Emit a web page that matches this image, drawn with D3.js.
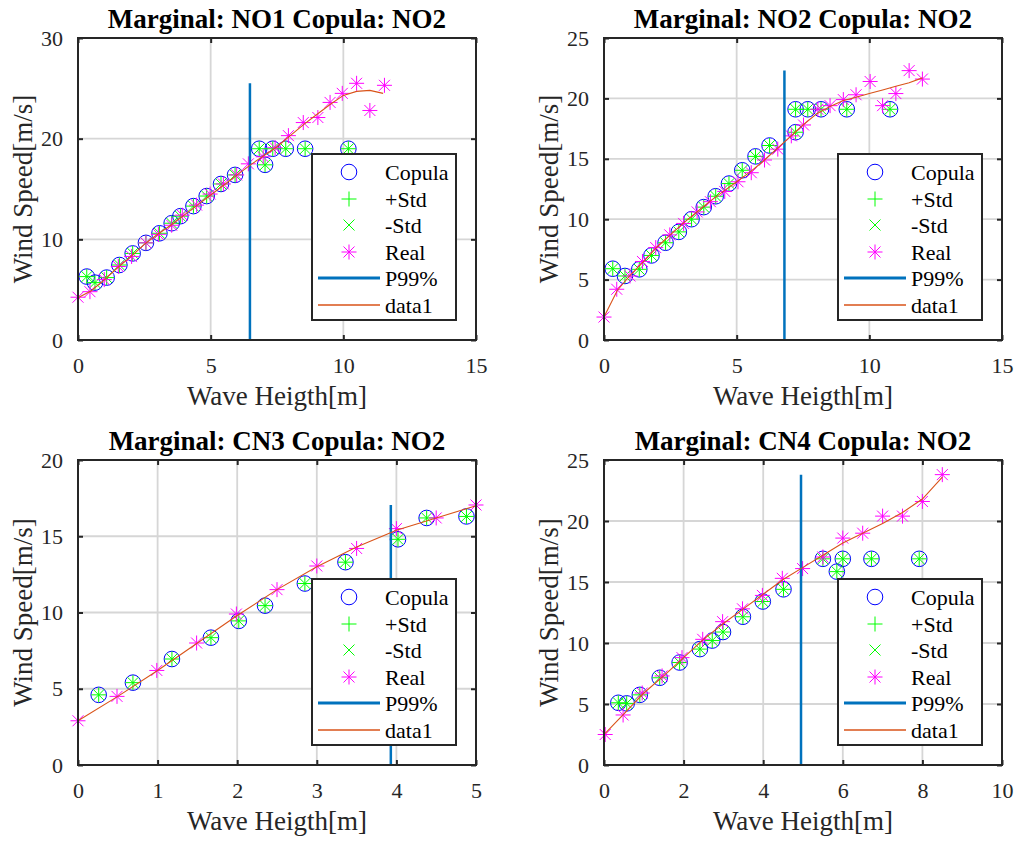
<!DOCTYPE html>
<html>
<head>
<meta charset="utf-8">
<script src="https://cdn.jsdelivr.net/npm/d3@7"></script>
<style>
  body { margin: 0; background: #fff; }
  text { font-family: "Liberation Serif", "Times New Roman", serif; fill: #262626; }
</style>
</head>
<body>
<div id="chart"></div>
<script>
// values (wave height [m] vs wind speed [m/s])
// the +Std / -Std markers sit exactly on the copula points in every panel

// panel 1: Marginal NO1
var p1CopX = [0.33, 0.64, 1.08, 1.56, 2.06, 2.56, 3.07, 3.53, 3.86, 4.35, 4.85, 5.39, 5.92, 6.83, 7.05, 7.34, 7.83, 8.56, 10.19]
var p1CopY = [6.3, 5.7, 6.2, 7.45, 8.6, 9.65, 10.6, 11.6, 12.3, 13.3, 14.3, 15.5, 16.4, 19.0, 17.4, 19.0, 19.0, 19.0, 19.0]
var p1RealX = [0, 0.45, 0.99, 1.52, 2.02, 2.56, 3.03, 3.53, 3.93, 4.47, 4.98, 5.48, 5.98, 6.42, 6.98, 7.43, 7.93, 8.49, 9.04, 9.5, 9.96, 10.5, 11.0, 11.55]
var p1RealY = [4.25, 4.8, 6.0, 7.3, 8.3, 9.65, 10.5, 11.4, 12.4, 13.4, 14.5, 15.5, 16.4, 17.5, 18.2, 19.1, 20.3, 21.6, 22.1, 23.6, 24.5, 25.5, 22.8, 25.3]
var p1FitX = [0, 0.5, 1, 1.5, 2, 2.5, 3, 3.5, 4, 4.5, 5, 5.5, 6, 6.5, 7, 7.5, 8, 8.5, 9, 9.5, 10, 10.5, 11, 11.5]
var p1FitY = [4.2, 4.9, 6.0, 7.2, 8.3, 9.5, 10.5, 11.4, 12.4, 13.4, 14.4, 15.4, 16.4, 17.4, 18.3, 19.2, 20.3, 21.4, 22.4, 23.4, 24.3, 24.7, 24.8, 24.5]
var p1P99 = 6.48

// panel 2: Marginal NO2
var p2CopX = [0.33, 0.79, 1.33, 1.79, 2.32, 2.82, 3.3, 3.76, 4.21, 4.71, 5.21, 5.71, 6.24, 7.22, 7.22, 7.68, 8.18, 9.15, 10.78]
var p2CopY = [5.9, 5.3, 5.85, 7.0, 8.05, 8.95, 10.0, 11.0, 11.9, 12.95, 14.05, 15.2, 16.1, 17.2, 19.1, 19.1, 19.1, 19.1, 19.1]
var p2RealX = [0, 0.48, 0.98, 1.45, 1.95, 2.48, 3.0, 3.51, 4.01, 4.55, 5.05, 5.55, 6.05, 6.55, 7.06, 7.52, 8.06, 8.52, 9.02, 9.5, 10.03, 10.5, 11.0, 11.5, 12.0]
var p2RealY = [1.9, 4.2, 5.3, 6.5, 7.65, 8.7, 9.65, 10.6, 11.45, 12.3, 13.1, 13.85, 14.9, 15.8, 16.9, 17.8, 19.1, 19.4, 19.9, 20.3, 21.4, 19.4, 20.4, 22.3, 21.6]
var p2FitX = [0, 0.5, 1, 1.5, 2, 2.5, 3, 3.5, 4, 4.5, 5, 5.5, 6, 6.5, 7, 7.5, 8, 8.5, 9, 9.5, 10, 10.5, 11, 11.5, 12]
var p2FitY = [1.9, 4.1, 5.4, 6.5, 7.7, 8.7, 9.7, 10.6, 11.5, 12.3, 13.1, 13.9, 14.8, 15.8, 16.8, 17.8, 18.7, 19.3, 19.8, 20.1, 20.4, 20.7, 21.0, 21.3, 21.7]
var p2P99 = 6.8

// panel 3: Marginal CN3
var p3CopX = [0.26, 0.69, 1.18, 1.67, 2.02, 2.35, 2.85, 3.36, 4.02, 4.38, 4.88]
var p3CopY = [4.6, 5.4, 6.95, 8.35, 9.45, 10.45, 11.9, 13.3, 14.8, 16.2, 16.3]
var p3RealX = [0, 0.49, 0.99, 1.49, 1.99, 2.5, 3.0, 3.5, 4.0, 4.5, 5.0]
var p3RealY = [2.9, 4.5, 6.2, 8.0, 9.9, 11.5, 13.05, 14.2, 15.5, 16.2, 17.05]
var p3FitX = [0, 0.5, 1, 1.5, 2, 2.5, 3, 3.5, 4, 4.5, 5]
var p3FitY = [2.9, 4.5, 6.2, 8.0, 9.8, 11.5, 13.0, 14.3, 15.4, 16.2, 17.0]
var p3P99 = 3.93

// panel 4: Marginal CN4
var p4CopX = [0.36, 0.57, 0.9, 1.4, 1.9, 2.41, 2.72, 2.99, 3.49, 3.99, 4.51, 5.5, 5.85, 6.0, 6.72, 7.92]
var p4CopY = [5.1, 5.05, 5.75, 7.15, 8.4, 9.5, 10.2, 10.9, 12.15, 13.4, 14.4, 16.9, 15.85, 16.9, 16.9, 16.9]
var p4RealX = [0.03, 0.48, 0.96, 1.46, 1.96, 2.48, 2.98, 3.48, 3.98, 4.48, 4.99, 5.5, 6.0, 6.5, 7.0, 7.5, 8.0, 8.5]
var p4RealY = [2.5, 4.1, 5.9, 7.3, 8.8, 10.3, 11.75, 12.8, 13.9, 15.3, 16.1, 17.05, 18.6, 19.0, 20.4, 20.4, 21.6, 23.8]
var p4FitX = [0.03, 0.5, 1, 1.5, 2, 2.5, 3, 3.5, 4, 4.5, 5, 5.5, 6, 6.5, 7, 7.5, 8, 8.5]
var p4FitY = [2.6, 4.2, 5.9, 7.3, 8.8, 10.3, 11.6, 12.8, 14.0, 15.2, 16.2, 17.2, 18.2, 19.0, 19.8, 20.7, 21.8, 23.6]
var p4P99 = 4.95

var titles = ["Marginal: NO1 Copula: NO2", "Marginal: NO2 Copula: NO2", "Marginal: CN3 Copula: NO2", "Marginal: CN4 Copula: NO2"]
var xMax = [15, 15, 5, 10]
var yMax = [30, 25, 20, 25]
var xTicks = [[0, 5, 10, 15], [0, 5, 10, 15], [0, 1, 2, 3, 4, 5], [0, 2, 4, 6, 8, 10]]
var yTicks = [[0, 10, 20, 30], [0, 5, 10, 15, 20, 25], [0, 5, 10, 15, 20], [0, 5, 10, 15, 20, 25]]
var legendLabels = ["Copula", "+Std", "-Std", "Real", "P99%", "data1"]

var series = [
  {cx: p1CopX, cy: p1CopY, rx: p1RealX, ry: p1RealY, fx: p1FitX, fy: p1FitY, p99: p1P99},
  {cx: p2CopX, cy: p2CopY, rx: p2RealX, ry: p2RealY, fx: p2FitX, fy: p2FitY, p99: p2P99},
  {cx: p3CopX, cy: p3CopY, rx: p3RealX, ry: p3RealY, fx: p3FitX, fy: p3FitY, p99: p3P99},
  {cx: p4CopX, cy: p4CopY, rx: p4RealX, ry: p4RealY, fx: p4FitX, fy: p4FitY, p99: p4P99}
]

// axes boxes in pixels
var boxes = [
  {l: 78, r: 476, t: 38, b: 340},
  {l: 604, r: 1002, t: 38, b: 340},
  {l: 78, r: 476, t: 460, b: 765},
  {l: 604, r: 1002, t: 460, b: 765}
]

var axisColor = "#262626"
var gridColor = "#d6d6d6"
var blue = "#0000ff", green = "#00ff00", magenta = "#ff00ff"
var p99Color = "#0072bd", fitColor = "#d95319"

var plusPath = "M-7.5,0H7.5M0,-7.5V7.5"
var crossPath = "M-5.5,-5.5L5.5,5.5M-5.5,5.5L5.5,-5.5"
var starPath = plusPath + crossPath

var svg = d3.select("#chart").append("svg").attr("width", 1020).attr("height", 841)

series.forEach(function(s, i) {
  var bx = boxes[i]
  var x = d3.scaleLinear().domain([0, xMax[i]]).range([bx.l, bx.r])
  var y = d3.scaleLinear().domain([0, yMax[i]]).range([bx.b, bx.t])
  var g = svg.append("g")

  // grid
  g.append("g").selectAll("line").data(xTicks[i]).enter().append("line")
    .attr("x1", function(d) { return x(d) }).attr("x2", function(d) { return x(d) })
    .attr("y1", bx.t).attr("y2", bx.b)
    .attr("stroke", gridColor).attr("stroke-width", 1.8)
  g.append("g").selectAll("line").data(yTicks[i]).enter().append("line")
    .attr("y1", function(d) { return y(d) }).attr("y2", function(d) { return y(d) })
    .attr("x1", bx.l).attr("x2", bx.r)
    .attr("stroke", gridColor).attr("stroke-width", 1.8)

  // axes with inward ticks, MATLAB box style
  var tk = 5
  var fmt = d3.format("d")
  g.append("g").attr("transform", "translate(0," + bx.b + ")")
    .call(d3.axisBottom(x).tickValues(xTicks[i]).tickFormat(fmt).tickSizeInner(-tk).tickSizeOuter(0).tickPadding(17))
  g.append("g").attr("transform", "translate(0," + bx.t + ")")
    .call(d3.axisTop(x).tickValues(xTicks[i]).tickSizeInner(-tk).tickSizeOuter(0).tickFormat(""))
  g.append("g").attr("transform", "translate(" + bx.l + ",0)")
    .call(d3.axisLeft(y).tickValues(yTicks[i]).tickFormat(fmt).tickSizeInner(-tk).tickSizeOuter(0).tickPadding(15))
  g.append("g").attr("transform", "translate(" + bx.r + ",0)")
    .call(d3.axisRight(y).tickValues(yTicks[i]).tickSizeInner(-tk).tickSizeOuter(0).tickFormat(""))
  g.selectAll(".domain").remove()
  g.selectAll(".tick line").attr("stroke", axisColor).attr("stroke-width", 2)
  g.selectAll(".tick text").style("font-size", "22px").style("font-family", "Liberation Serif").attr("fill", axisColor)

  // markers
  var pts = s.cx.map(function(v, k) { return [v, s.cy[k]] })
  var real = s.rx.map(function(v, k) { return [v, s.ry[k]] })
  g.append("g").selectAll("circle").data(pts).enter().append("circle")
    .attr("cx", function(d) { return x(d[0]) }).attr("cy", function(d) { return y(d[1]) })
    .attr("r", 7.8).attr("fill", "none").attr("stroke", blue).attr("stroke-width", 1)
  g.append("g").selectAll("path").data(pts).enter().append("path")
    .attr("transform", function(d) { return "translate(" + x(d[0]) + "," + y(d[1]) + ")" })
    .attr("d", plusPath).attr("stroke", green).attr("stroke-width", 1)
  g.append("g").selectAll("path").data(pts).enter().append("path")
    .attr("transform", function(d) { return "translate(" + x(d[0]) + "," + y(d[1]) + ")" })
    .attr("d", crossPath).attr("stroke", green).attr("stroke-width", 1)
  g.append("g").selectAll("path").data(real).enter().append("path")
    .attr("transform", function(d) { return "translate(" + x(d[0]) + "," + y(d[1]) + ")" })
    .attr("d", starPath).attr("stroke", magenta).attr("stroke-width", 1)

  // P99% vertical line up to the highest real value
  var top = d3.max(s.ry)
  g.append("line")
    .attr("x1", x(s.p99)).attr("x2", x(s.p99)).attr("y1", y(0)).attr("y2", y(top))
    .attr("stroke", p99Color).attr("stroke-width", 2.5)

  // data1 fit line
  var fit = s.fx.map(function(v, k) { return [v, s.fy[k]] })
  g.append("path").datum(fit)
    .attr("d", d3.line().x(function(d) { return x(d[0]) }).y(function(d) { return y(d[1]) }))
    .attr("fill", "none").attr("stroke", fitColor).attr("stroke-width", 1.1)

  // frame
  g.append("rect").attr("x", bx.l).attr("y", bx.t).attr("width", bx.r - bx.l).attr("height", bx.b - bx.t)
    .attr("fill", "none").attr("stroke", axisColor).attr("stroke-width", 2)

  // title and labels
  g.append("text").text(titles[i])
    .attr("x", (bx.l + bx.r) / 2).attr("y", bx.t - 10).attr("text-anchor", "middle")
    .style("font-size", "27px").style("font-weight", "bold").style("fill", "#000")
  g.append("text").text("Wave Heigth[m]")
    .attr("x", (bx.l + bx.r) / 2).attr("y", bx.b + 65).attr("text-anchor", "middle")
    .style("font-size", "27px")
  g.append("text").text("Wind Speed[m/s]")
    .attr("transform", "translate(" + (bx.l - 46) + "," + ((bx.t + bx.b) / 2) + ") rotate(-90)")
    .attr("text-anchor", "middle").style("font-size", "27px")

  // legend
  var lw = 144, lh = 166
  var lx = bx.r - 20 - lw, ly = bx.b - 20 - lh
  var lg = g.append("g").attr("transform", "translate(" + lx + "," + ly + ")")
  lg.append("rect").attr("width", lw).attr("height", lh).attr("fill", "#fff")
    .attr("stroke", axisColor).attr("stroke-width", 2)
  legendLabels.forEach(function(lab, k) {
    var ry = Math.round(18 + k * 26.5)
    if (k == 0) {
      lg.append("circle").attr("cx", 37).attr("cy", ry).attr("r", 7.8).attr("fill", "none").attr("stroke", blue)
    } else if (k == 1) {
      lg.append("path").attr("transform", "translate(37," + ry + ")").attr("d", plusPath).attr("stroke", green)
    } else if (k == 2) {
      lg.append("path").attr("transform", "translate(37," + ry + ")").attr("d", crossPath).attr("stroke", green)
    } else if (k == 3) {
      lg.append("path").attr("transform", "translate(37," + ry + ")").attr("d", starPath).attr("stroke", magenta)
    } else {
      lg.append("line").attr("x1", 6).attr("x2", 68).attr("y1", ry).attr("y2", ry)
        .attr("stroke", k == 4 ? p99Color : fitColor).attr("stroke-width", k == 4 ? 3 : 1.5)
    }
    lg.append("text").text(lab).attr("x", 73).attr("y", ry + 7.5).style("font-size", "22px").style("fill", "#000")
  })
})
</script>
</body>
</html>
